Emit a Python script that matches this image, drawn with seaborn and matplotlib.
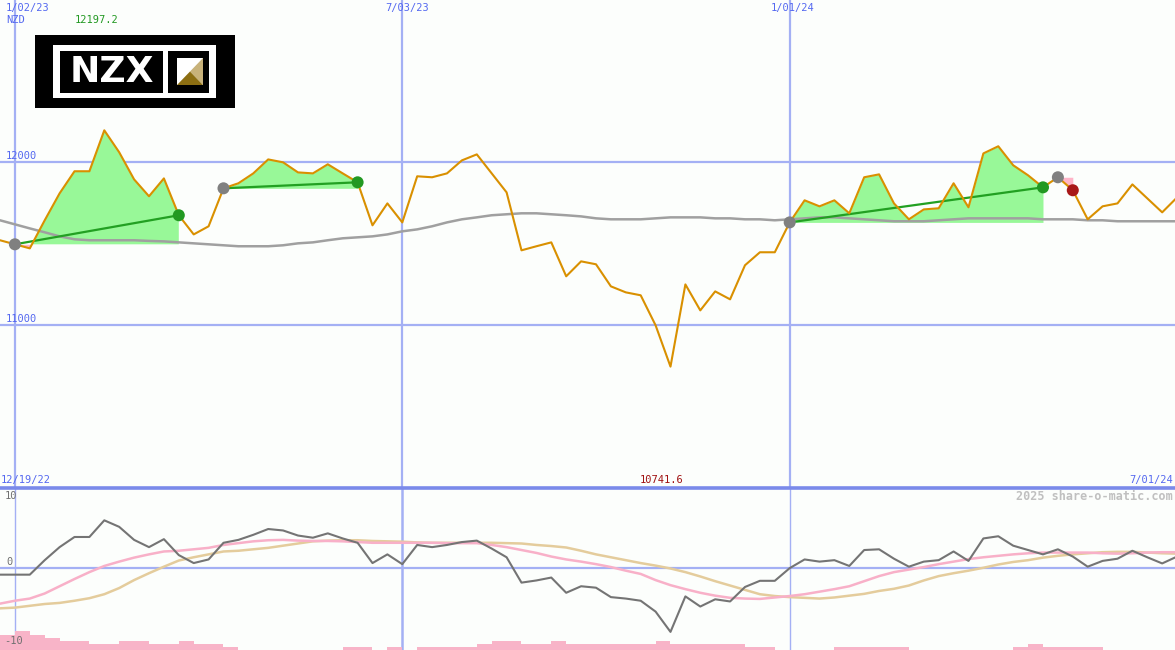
import matplotlib
matplotlib.use('Agg')

import numpy as np
import pandas as pd
import matplotlib.pyplot as plt
import seaborn as sns
from matplotlib.patches import Rectangle, Polygon

# weekly closes, NZX 50 (NZD)
weeks = pd.date_range('2022-12-26', periods=80, freq='7D')
price = [11520, 11495, 11470, 11643, 11809, 11945, 11945, 12197.2, 12062, 11895,
         11791, 11901, 11674, 11556, 11606, 11840, 11871, 11932, 12018, 12000,
         11938, 11932, 11988, 11932, 11877, 11612, 11747, 11630, 11914, 11908,
         11932, 12012, 12049, 11932, 11815, 11458, 11483, 11507, 11298, 11390,
         11372, 11236, 11199, 11181, 10996, 10741.6, 11248, 11088, 11205, 11156,
         11366, 11446, 11446, 11630, 11766, 11729, 11766, 11686, 11908, 11926,
         11747, 11649, 11710, 11717, 11871, 11723, 12055, 12099, 11982, 11920,
         11846, 11908, 11828, 11649, 11729, 11747, 11864, 11778, 11692, 11784]
ma = [11643, 11618, 11593, 11569, 11544, 11526, 11520, 11520, 11520, 11520,
      11516, 11513, 11507, 11501, 11495, 11489, 11483, 11483, 11483, 11489,
      11501, 11507, 11520, 11532, 11538, 11544, 11556, 11575, 11587, 11606,
      11630, 11649, 11661, 11674, 11680, 11686, 11686, 11680, 11674, 11667,
      11655, 11649, 11649, 11649, 11655, 11661, 11661, 11661, 11655, 11655,
      11649, 11649, 11643, 11649, 11655, 11661, 11661, 11655, 11649, 11643,
      11637, 11637, 11637, 11643, 11649, 11655, 11655, 11655, 11655, 11655,
      11649, 11649, 11649, 11643, 11643, 11637, 11637, 11637, 11637, 11637]

# trend segments (start week, end week, direction)
seg_start = [1, 15, 53, 71]
seg_end = [12, 24, 70, 72]
seg_dir = ['up', 'up', 'up', 'down']

# lower panel oscillators
osc = [-0.9, -0.9, -0.9, 1.1, 2.9, 4.3, 4.3, 6.6, 5.7, 3.9,
       2.9, 4.0, 1.8, 0.7, 1.2, 3.5, 3.9, 4.6, 5.4, 5.2,
       4.5, 4.2, 4.8, 4.1, 3.5, 0.7, 1.9, 0.55, 3.2, 2.9,
       3.2, 3.6, 3.8, 2.7, 1.5, -2.0, -1.7, -1.3, -3.4, -2.5,
       -2.7, -4.0, -4.2, -4.5, -6.0, -8.8, -3.9, -5.3, -4.3, -4.6,
       -2.6, -1.75, -1.75, 0.0, 1.2, 0.9, 1.1, 0.3, 2.5, 2.6,
       1.3, 0.2, 0.9, 1.1, 2.3, 1.0, 4.1, 4.4, 3.1, 2.5,
       1.9, 2.6, 1.6, 0.2, 1.0, 1.3, 2.4, 1.5, 0.65, 1.6]
sig = [-4.9, -4.5, -4.2, -3.5, -2.5, -1.5, -0.55, 0.3, 0.9, 1.45,
       1.9, 2.3, 2.4, 2.6, 2.8, 3.2, 3.45, 3.7, 3.85, 3.9,
       3.8, 3.75, 3.75, 3.7, 3.6, 3.5, 3.5, 3.5, 3.5, 3.5,
       3.45, 3.45, 3.45, 3.2, 2.9, 2.5, 2.1, 1.6, 1.2, 0.9,
       0.55, 0.15, -0.35, -0.8, -1.65, -2.35, -2.9, -3.4, -3.8, -4.1,
       -4.2, -4.25, -4.05, -3.85, -3.6, -3.25, -2.9, -2.5, -1.8, -1.1,
       -0.55, -0.2, 0.15, 0.55, 0.9, 1.25, 1.5, 1.7, 1.9, 2.05,
       2.15, 2.15, 2.15, 2.15, 2.05, 2.0, 2.05, 2.15, 2.2, 2.2]
slow = [-5.55, -5.45, -5.2, -4.95, -4.8, -4.5, -4.15, -3.6, -2.75, -1.65,
        -0.7, 0.2, 1.05, 1.5, 1.9, 2.3, 2.4, 2.6, 2.8, 3.1,
        3.4, 3.7, 3.8, 3.85, 3.85, 3.75, 3.7, 3.65, 3.55, 3.5,
        3.5, 3.5, 3.5, 3.5, 3.45, 3.4, 3.2, 3.05, 2.85, 2.4,
        1.9, 1.5, 1.1, 0.7, 0.35, -0.05, -0.55, -1.15, -1.8, -2.4,
        -3.0, -3.6, -3.85, -4.0, -4.1, -4.2, -4.05, -3.8, -3.55, -3.15,
        -2.85, -2.4, -1.7, -1.1, -0.7, -0.35, 0.05, 0.5, 0.85, 1.1,
        1.45, 1.7, 1.9, 2.05, 2.2, 2.25, 2.25, 2.15, 2.05, 2.0]
vol = [2.05, 2.6, 2.05, 1.6, 1.25, 1.25, 0.8, 0.8, 1.25, 1.25,
       0.8, 0.8, 1.25, 0.8, 0.8, 0.4, 0, 0, 0, 0,
       0, 0, 0, 0.4, 0.4, 0, 0.4, 0, 0.4, 0.4,
       0.4, 0.4, 0.8, 1.25, 1.25, 0.8, 0.8, 1.25, 0.8, 0.8,
       0.8, 0.8, 0.8, 0.8, 1.25, 0.8, 0.8, 0.8, 0.8, 0.8,
       0.4, 0.4, 0, 0, 0, 0, 0.4, 0.4, 0.4, 0.4,
       0.4, 0, 0, 0, 0, 0, 0, 0, 0.4, 0.8,
       0.4, 0.4, 0.4, 0.4, 0, 0, 0, 0, 0, 0]

grid_dates = pd.to_datetime(['2023-01-02', '2023-07-03', '2024-01-01'])

BG = '#fcfefc'
GRID = '#a4b0f4'
BLUE = '#5468f0'
MONO = 'DejaVu Sans Mono'

sns.set_style('white')
df = pd.DataFrame({'week': weeks, 'price': price, 'ma': ma,
                   'osc': osc, 'sig': sig, 'slow': slow, 'vol': vol})

fig = plt.figure(figsize=(11.75, 6.5), dpi=100, facecolor=BG)
ax = fig.add_axes([0, 163 / 650, 1, 487 / 650])
ax2 = fig.add_axes([0, 0, 1, 163 / 650])
xmax = weeks[0] + pd.Timedelta(days=7 * 78.86)

# --- price panel
ax.axhline(12000, color=GRID, lw=1.6, zorder=0.5)
ax.axhline(11000, color=GRID, lw=1.6, zorder=0.5)
for d in grid_dates:
    ax.axvline(d, color=GRID, lw=1.6, zorder=0.5)

pr = np.array(price, dtype=float)
for s, e, dr in zip(seg_start, seg_end, seg_dir):
    xs = weeks[s:e + 1]
    ys = pr[s:e + 1]
    base = pr[s]
    ax.fill_between(xs, base, ys, where=ys >= base, interpolate=True,
                    color='#98f898', lw=0, zorder=1)
    ax.fill_between(xs, base, ys, where=ys <= base, interpolate=True,
                    color='#ffb4c8', lw=0, zorder=1)

sns.lineplot(data=df, x='week', y='ma', ax=ax, color='#a0a0a0', lw=1.8, zorder=2)

for s, e, dr in zip(seg_start, seg_end, seg_dir):
    if dr == 'up':
        ax.plot([weeks[s], weeks[e]], [pr[s], pr[e]], color='#22a022', lw=1.6, zorder=3)

sns.lineplot(data=df, x='week', y='price', ax=ax, color='#d99000', lw=1.5, zorder=4)

mk = pd.DataFrame({
    'week': list(weeks[seg_start]) + list(weeks[seg_end]),
    'price': list(pr[seg_start]) + list(pr[seg_end]),
    'kind': ['start'] * len(seg_start) + ['end_' + d for d in seg_dir],
})
sns.scatterplot(data=mk, x='week', y='price', hue='kind', ax=ax, s=75, linewidth=0,
                palette={'start': '#808080', 'end_up': '#229922', 'end_down': '#a81818'},
                legend=False, zorder=5)

ax.set_xlim(weeks[0], xmax)
ax.set_ylim(10000, 13000)
ax.axis('off')

# --- oscillator panel
ax2.bar(weeks, vol, width=7, align='edge', bottom=-11.3, color='#f8b4c8', lw=0, zorder=1)
ax2.axhline(0, color=GRID, lw=1.6, zorder=0.5)
for d, w in zip(grid_dates, [1.0, 1.8, 1.0]):
    ax2.axvline(d, color=GRID, lw=w, zorder=0.5)
sns.lineplot(data=df, x='week', y='slow', ax=ax2, color='#e4cc9c', lw=1.8, zorder=2)
sns.lineplot(data=df, x='week', y='sig', ax=ax2, color='#f8b0c8', lw=1.8, zorder=2)
sns.lineplot(data=df, x='week', y='osc', ax=ax2, color='#747474', lw=1.5, zorder=3)
ax2.set_xlim(weeks[0], xmax)
ax2.set_ylim(-11.3, 11.2)
ax2.axhline(11.05, color='#7a8aea', lw=2.6, clip_on=False, zorder=6)
ax2.axis('off')


def put(x, y, s, color=BLUE, ha='left', size=7.5, **kw):
    fig.text(x / 1175, 1 - y / 650, s, color=color, ha=ha, va='center',
             family=MONO, fontsize=size, **kw)


put(6, 8, '1/02/23')
put(6, 20, 'NZD')
put(75, 20, '12197.2', color='#229922')
put(385, 8, '7/03/23')
put(771, 8, '1/01/24')
put(6, 156, '12000')
put(6, 319, '11000')
put(1, 480, '12/19/22')
put(640, 480, '10741.6', color='#a01010')
put(1173, 480, '7/01/24', ha='right')
put(1173, 496, '2025 share-o-matic.com', color='#c0c0c0', ha='right',
    size=8.5, fontweight='bold')
put(5, 496, '10', color='#707070')
put(6, 562, '0', color='#707070')
put(4, 641, '-10', color='#707070')

# --- NZX logo
lg = fig.add_axes([35 / 1175, 1 - 108 / 650, 200 / 1175, 73 / 650])
lg.set_xlim(35, 235)
lg.set_ylim(108, 35)
lg.axis('off')
lg.add_patch(Rectangle((35, 35), 200, 73, color='black', lw=0))
lg.add_patch(Rectangle((53, 45), 163, 53, color='white', lw=0))
lg.add_patch(Rectangle((60, 51), 103, 42, color='black', lw=0))
lg.add_patch(Rectangle((168, 51), 41, 42, color='black', lw=0))
lg.text(112, 72.5, 'NZX', color='white', ha='center', va='center',
        fontsize=26, fontweight='bold', family='DejaVu Sans')
lg.add_patch(Rectangle((177, 58), 26, 27, color='white', lw=0))
lg.add_patch(Polygon([(203, 58), (203, 85), (190, 71.5)], color='#c8b27a', lw=0))
lg.add_patch(Polygon([(177, 85), (203, 85), (190, 71.5)], color='#8c6e12', lw=0))

fig.savefig('out.png', dpi=100, facecolor=BG)
